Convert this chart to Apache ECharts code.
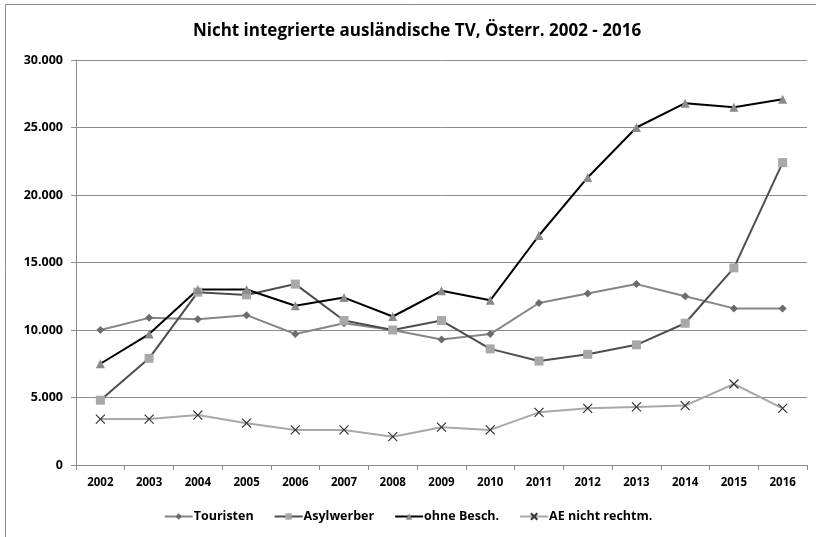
<!DOCTYPE html>
<html><head><meta charset="utf-8">
<script src="https://cdn.jsdelivr.net/npm/echarts@6/dist/echarts.min.js"></script>
<style>html,body{margin:0;padding:0;background:#fff}#c{width:816px;height:537px}</style>
</head><body><div id="c"></div>
<script>
const categories = ['2002','2003','2004','2005','2006','2007','2008','2009','2010','2011','2012','2013','2014','2015','2016'];
const touristen = [10000,10900,10800,11100,9700,10500,10000,9300,9700,12000,12700,13400,12500,11600,11600];
const asylwerber = [4800,7900,12800,12600,13400,10700,10000,10700,8600,7700,8200,8900,10500,14600,22400];
const ohneBesch = [7500,9700,13000,13000,11800,12400,11000,12900,12200,17000,21300,25000,26800,26500,27100];
const aeNichtRechtm = [3400,3400,3700,3100,2600,2600,2100,2800,2600,3900,4200,4300,4400,6000,4200];
const seriesNames = ['Touristen','Asylwerber','ohne Besch.','AE nicht rechtm.'];
const titleText = 'Nicht integrierte ausländische TV, Österr. 2002 - 2016';

const font = '"Open Sans", "Noto Sans", sans-serif';
const chart = echarts.init(document.getElementById('c'));
function fmt(v){ return v === 0 ? '0' : v.toString().replace(/\B(?=(\d{3})+(?!\d))/g, '.'); }
chart.setOption({
  animation: false,
  backgroundColor: '#fff',
  graphic: [{type:'rect', shape:{x:5.5,y:4.5,width:900,height:600}, style:{fill:'none', stroke:'#8a8a8a', lineWidth:1}, silent:true}],
  title: {text: titleText, left: 412, top: 18, textAlign:'center',
    textStyle:{fontFamily:font, fontSize:17, fontWeight:'bold', color:'#000'}},
  legend: {bottom: 9, left: 'center', itemGap: 20, itemWidth: 28, itemHeight: 8,
    textStyle:{fontFamily:font, fontSize:12.5, fontWeight:'bold', color:'#000', padding:[0,0,0,-4]},
    data: seriesNames},
  grid: {left: 76, right: 9, top: 60, bottom: 72},
  xAxis: {type:'category', data: categories, boundaryGap: true,
    axisLine:{lineStyle:{color:'#8c8c8c', width:1}},
    axisTick:{show:true, length:5, lineStyle:{color:'#8c8c8c'}},
    axisLabel:{fontFamily:font, fontSize:11.5, fontWeight:'bold', color:'#000', margin:12}},
  yAxis: {type:'value', min:0, max:30000, interval:5000,
    axisLine:{show:true, lineStyle:{color:'#8c8c8c'}},
    axisTick:{show:true, length:5, lineStyle:{color:'#8c8c8c'}},
    splitLine:{lineStyle:{color:'#8c8c8c', width:1}},
    axisLabel:{fontFamily:font, fontSize:12.5, fontWeight:'bold', color:'#000', margin:13, formatter: fmt}},
  series: [
    {name:'Touristen', type:'line', data: touristen, symbol:'diamond', symbolSize:8,
      lineStyle:{color:'#858585', width:2}, itemStyle:{color:'#6b6b6b'}},
    {name:'Asylwerber', type:'line', data: asylwerber, symbol:'rect', symbolSize:9,
      lineStyle:{color:'#4d4d4d', width:2}, itemStyle:{color:'#a8a8a8'}},
    {name:'ohne Besch.', type:'line', data: ohneBesch, symbol:'triangle', symbolSize:9,
      lineStyle:{color:'#000', width:2}, itemStyle:{color:'#8a8a8a'}},
    {name:'AE nicht rechtm.', type:'line', data: aeNichtRechtm,
      symbol:'path://M0,0 L10,10 M10,0 L0,10', symbolSize:9,
      lineStyle:{color:'#a8a8a8', width:2}, itemStyle:{color:'none', borderColor:'#333', borderWidth:1.2}}
  ]
});
</script></body></html>
